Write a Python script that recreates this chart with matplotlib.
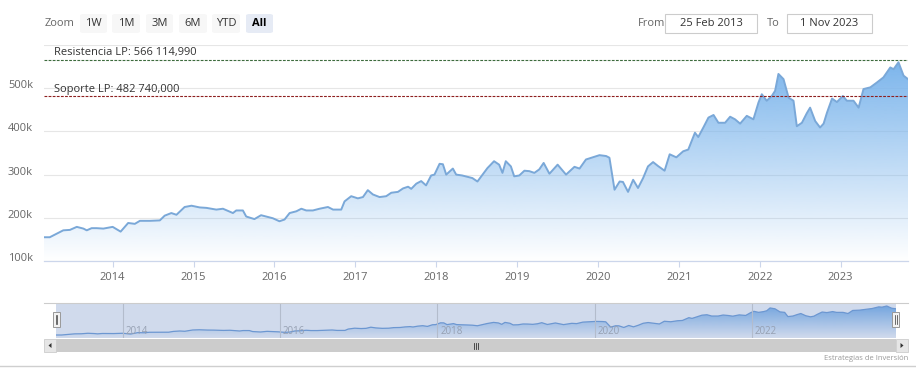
import matplotlib
matplotlib.use("Agg")
import matplotlib.pyplot as plt
import matplotlib.dates as mdates
import matplotlib.transforms as mtransforms
from matplotlib.patches import Rectangle, FancyBboxPatch, Polygon
from matplotlib.lines import Line2D
import numpy as np
import pandas as pd

# ---------------- data ----------------
dates = [
    "2013-02-25", "2013-03-23", "2013-04-23", "2013-05-23", "2013-06-22", "2013-07-23",
    "2013-08-22", "2013-09-06", "2013-09-28", "2013-10-21", "2013-11-20", "2014-01-01",
    "2014-02-06", "2014-03-12", "2014-04-11", "2014-05-04", "2014-06-18", "2014-08-02",
    "2014-08-24", "2014-09-23", "2014-10-16", "2014-11-22", "2014-12-23", "2015-01-29",
    "2015-02-28", "2015-04-14", "2015-05-14", "2015-06-28", "2015-07-13", "2015-08-12",
    "2015-08-27", "2015-10-03", "2015-11-02", "2015-11-25", "2015-12-25", "2016-01-24",
    "2016-02-16", "2016-03-10", "2016-04-09", "2016-05-02", "2016-05-24", "2016-06-23",
    "2016-07-23", "2016-08-30", "2016-09-22", "2016-10-29", "2016-11-13", "2016-12-13",
    "2017-01-12", "2017-02-04", "2017-02-26", "2017-03-21", "2017-04-20", "2017-05-20",
    "2017-06-12", "2017-07-12", "2017-08-04", "2017-08-27", "2017-09-10", "2017-10-03",
    "2017-10-25", "2017-11-16", "2017-12-09", "2017-12-24", "2018-01-16", "2018-01-31",
    "2018-02-15", "2018-03-17", "2018-04-01", "2018-04-28", "2018-05-21", "2018-06-13",
    "2018-07-06", "2018-07-29", "2018-08-20", "2018-09-19", "2018-10-12", "2018-10-27",
    "2018-11-11", "2018-12-04", "2018-12-19", "2019-01-11", "2019-02-03", "2019-02-25",
    "2019-03-20", "2019-04-11", "2019-05-01", "2019-05-27", "2019-07-03", "2019-08-10",
    "2019-09-17", "2019-10-10", "2019-11-08", "2019-12-08", "2020-01-08", "2020-02-07",
    "2020-02-22", "2020-03-16", "2020-04-08", "2020-04-23", "2020-05-16", "2020-06-08",
    "2020-06-30", "2020-07-23", "2020-08-14", "2020-09-06", "2020-09-28", "2020-10-28",
    "2020-11-20", "2020-12-20", "2021-01-20", "2021-02-12", "2021-03-14", "2021-03-29",
    "2021-04-21", "2021-05-14", "2021-06-06", "2021-06-28", "2021-07-28", "2021-08-20",
    "2021-09-11", "2021-10-04", "2021-11-03", "2021-12-03", "2021-12-26", "2022-01-10",
    "2022-02-01", "2022-02-24", "2022-03-11", "2022-03-26", "2022-04-18", "2022-05-11",
    "2022-06-02", "2022-06-17", "2022-07-10", "2022-08-01", "2022-08-16", "2022-09-08",
    "2022-09-30", "2022-10-16", "2022-10-31", "2022-11-23", "2022-12-15", "2023-01-11",
    "2023-01-29", "2023-02-28", "2023-03-23", "2023-04-14", "2023-05-15", "2023-06-13",
    "2023-07-13", "2023-08-13", "2023-08-28", "2023-09-19", "2023-10-12", "2023-11-01",
]
values = [
    155000, 155000, 163000, 171000, 172000, 179000,
    175000, 171000, 176000, 176000, 175000, 179000,
    168000, 188000, 186000, 193000, 193000, 194000,
    205000, 211000, 207000, 225000, 228000, 224000,
    223000, 219000, 221000, 211000, 217000, 217000,
    203000, 197000, 206000, 203000, 199000, 192000,
    196000, 211000, 215000, 221000, 217000, 217000,
    221000, 225000, 219000, 219000, 238000, 250000,
    245000, 248000, 264000, 254000, 248000, 250000,
    258000, 260000, 268000, 272000, 267000, 279000,
    285000, 275000, 298000, 300000, 325000, 324000,
    300000, 314000, 300000, 298000, 295000, 292000,
    284000, 300000, 315000, 331000, 323000, 304000,
    331000, 319000, 296000, 298000, 309000, 308000,
    304000, 312000, 327000, 302000, 323000, 300000,
    318000, 314000, 335000, 340000, 345000, 343000,
    339000, 265000, 284000, 283000, 260000, 288000,
    269000, 292000, 319000, 329000, 320000, 309000,
    347000, 340000, 354000, 358000, 397000, 387000,
    409000, 432000, 438000, 420000, 420000, 434000,
    428000, 418000, 436000, 428000, 467000, 486000,
    471000, 482000, 494000, 533000, 521000, 478000,
    471000, 412000, 420000, 442000, 455000, 424000,
    409000, 418000, 443000, 476000, 468000, 482000,
    471000, 471000, 455000, 498000, 502000, 513000,
    525000, 548000, 544000, 560000, 529000, 521000,
]
resistance_value = 566114.99
support_value = 482740.0
resistance_label = "Resistencia LP: 566 114,990"
support_label = "Soporte LP: 482 740,000"
y_ticks = [100000, 200000, 300000, 400000, 500000, 600000]
y_tick_labels = ["100k", "200k", "300k", "400k", "500k", ""]
range_buttons = ["1W", "1M", "3M", "6M", "YTD", "All"]
selected_button = "All"
from_date = "25 Feb 2013"
to_date = "1 Nov 2023"
nav_years = [2014, 2016, 2018, 2020, 2022]
credit = "Estrategias de Inversión"

# ---------------- styling ----------------
plt.rcParams["font.family"] = ["Open Sans", "DejaVu Sans"]
W, H = 916, 373
SERIES = "#7cb5ec"
LINE = "#7aa8d8"
TXT = "#666666"


def fx(p):
    return p / W


def fy(p):
    return 1 - p / H


def rect_px(x0, y0, x1, y1, **kw):
    r = Rectangle((fx(x0), fy(y1)), fx(x1) - fx(x0), fy(y0) - fy(y1),
                  transform=fig.transFigure, **kw)
    fig.add_artist(r)
    return r


fig = plt.figure(figsize=(W / 100, H / 100), dpi=100)
fig.patch.set_facecolor("white")

x = mdates.date2num(pd.to_datetime(dates))
vals = np.array(values, dtype=float)
x_min = mdates.date2num(pd.Timestamp("2013-02-25"))
x_max = mdates.date2num(pd.Timestamp("2023-11-01"))


def gradient_area(axis, ybottom, top_alpha=1.0):
    fb = axis.fill_between(x, vals, ybottom, facecolor="none", edgecolor="none")
    rgb = np.array(matplotlib.colors.to_rgb(SERIES))
    img = np.zeros((256, 1, 4))
    img[..., :3] = rgb
    img[..., 3] = np.linspace(top_alpha, 0.0, 256)[:, None]
    im = axis.imshow(img, extent=[x.min(), x.max(), ybottom, vals.max()],
                     aspect="auto", origin="upper", zorder=1, interpolation="bilinear")
    im.set_clip_path(fb.get_paths()[0], transform=axis.transData)
    return im


# ---------------- main chart ----------------
ax = fig.add_axes([fx(44), fy(261), fx(908) - fx(44), fy(45) - fy(261)])
ax.set_facecolor("white")
gradient_area(ax, 100000)
ax.plot(x, vals, color=LINE, lw=1.4, zorder=3, solid_joinstyle="round")

ax.set_xlim(x_min, x_max)
ax.set_ylim(100000, 600000)
ax.set_yticks(y_ticks)
ax.set_yticklabels(y_tick_labels)
ax.grid(axis="y", color="#e6e6e6", lw=0.8, zorder=0)
ax.set_axisbelow(True)
for s in ["top", "right", "left"]:
    ax.spines[s].set_visible(False)
ax.spines["bottom"].set_color("#ccd6eb")
ax.spines["bottom"].set_linewidth(0.9)
ax.tick_params(axis="y", length=0, pad=26, labelsize=8, labelcolor=TXT)
for lbl in ax.get_yticklabels():
    lbl.set_horizontalalignment("left")
    lbl.set_verticalalignment("baseline")
ax.xaxis.set_major_locator(mdates.YearLocator())
ax.xaxis.set_major_formatter(mdates.DateFormatter("%Y"))
ax.tick_params(axis="x", length=4, width=0.8, color="#ccd6eb", pad=4,
               labelsize=8, labelcolor=TXT)

# plot lines
ax.axhline(resistance_value, color="#3d6b3d", lw=0.8, ls=(0, (2.5, 1.2)), zorder=4)
ax.axhline(support_value, color="#8e1f1f", lw=0.8, ls=(0, (2.5, 1.2)), zorder=4)
blend = mtransforms.blended_transform_factory(ax.transAxes, ax.transData)
ax.annotate(resistance_label, xy=(0, resistance_value), xycoords=blend,
            xytext=(7.3, 1.2), textcoords="offset points", fontsize=8,
            color="#333333", va="bottom", ha="left", zorder=5)
ax.annotate(support_label, xy=(0, support_value), xycoords=blend,
            xytext=(7.3, 0.6), textcoords="offset points", fontsize=8,
            color="#333333", va="bottom", ha="left", zorder=5)

# ---------------- range selector ----------------
fig.text(fx(45), fy(23), "Zoom", fontsize=8, color=TXT, va="center", ha="left")
btn_x = [(80, 107), (112, 140), (146, 173), (179, 207), (212, 240), (246, 273)]
for (b0, b1), lab in zip(btn_x, range_buttons):
    sel = lab == selected_button
    p = FancyBboxPatch((fx(b0), fy(33)), fx(b1) - fx(b0), fy(14) - fy(33),
                       boxstyle="round,pad=0,rounding_size=0.004",
                       transform=fig.transFigure,
                       facecolor="#e6ebf5" if sel else "#f7f7f7", edgecolor="none")
    fig.add_artist(p)
    fig.text(fx((b0 + b1) / 2), fy(23.5), lab, fontsize=8,
             color="#000000" if sel else "#333333",
             fontweight="bold" if sel else "normal", ha="center", va="center")

fig.text(fx(638), fy(23), "From", fontsize=8, color=TXT, va="center", ha="left")
rect_px(665, 14, 757, 33, facecolor="white", edgecolor="#cccccc", lw=0.8)
fig.text(fx(711), fy(23.5), from_date, fontsize=8, color="#333333", ha="center", va="center")
fig.text(fx(767), fy(23), "To", fontsize=8, color=TXT, va="center", ha="left")
rect_px(787, 14, 872, 33, facecolor="white", edgecolor="#cccccc", lw=0.8)
fig.text(fx(829.5), fy(23.5), to_date, fontsize=8, color="#333333", ha="center", va="center")

# ---------------- navigator ----------------
nav = fig.add_axes([fx(56), fy(338), fx(896) - fx(56), fy(303) - fy(338)])
nav.set_facecolor("white")
gradient_area(nav, 113000)
nav.plot(x, vals, color="#6f9fd8", lw=0.9, zorder=3)
nav.set_xlim(x_min, x_max)
nav.set_ylim(113000, 602000)
nav.set_xticks([])
nav.set_yticks([])
for s in nav.spines.values():
    s.set_visible(False)
nav.add_patch(Rectangle((0, 0), 1, 1, transform=nav.transAxes,
                        facecolor="#6685c2", alpha=0.3, edgecolor="none", zorder=4))
nblend = mtransforms.blended_transform_factory(nav.transData, nav.transAxes)
for yr in nav_years:
    xv = mdates.date2num(pd.Timestamp(f"{yr}-01-01"))
    nav.axvline(xv, color="#b3bccc", lw=0.8, zorder=5)
    nav.annotate(str(yr), xy=(xv, 0.2), xycoords=nblend, xytext=(2, 0),
                 textcoords="offset points", fontsize=7, color="#96a0b2",
                 va="center", ha="left", zorder=6)

# navigator outline
fig.add_artist(Line2D([fx(44), fx(908)], [fy(303), fy(303)], color="#cccccc",
                      lw=0.8, transform=fig.transFigure))

# handles
for hx in (56.5, 895.5):
    rect_px(hx - 3.5, 312, hx + 3.5, 327, facecolor="#f2f2f2", edgecolor="#999999", lw=0.7,
            zorder=10)
    for dx in (-1, 1):
        fig.add_artist(Line2D([fx(hx + dx), fx(hx + dx)], [fy(315), fy(324)],
                              color="#333333", lw=0.5, transform=fig.transFigure, zorder=11))

# scrollbar
rect_px(56, 339, 896, 352, facecolor="#cccccc", edgecolor="none")
rect_px(44, 339, 56, 352, facecolor="#e6e6e6", edgecolor="#cccccc", lw=0.6)
rect_px(896, 339, 908, 352, facecolor="#e6e6e6", edgecolor="#cccccc", lw=0.6)
fig.add_artist(Polygon([[fx(48.5), fy(345.5)], [fx(51.5), fy(343)], [fx(51.5), fy(348)]],
                       closed=True, facecolor="#333333", edgecolor="none",
                       transform=fig.transFigure))
fig.add_artist(Polygon([[fx(903.5), fy(345.5)], [fx(900.5), fy(343)], [fx(900.5), fy(348)]],
                       closed=True, facecolor="#333333", edgecolor="none",
                       transform=fig.transFigure))
for gx in (474, 476, 478):
    fig.add_artist(Line2D([fx(gx), fx(gx)], [fy(343), fy(348.5)], color="#333333",
                          lw=0.6, transform=fig.transFigure))

# credit + bottom rule
fig.text(fx(908), fy(358), credit, fontsize=5.5, color="#999999", ha="right", va="center")
fig.add_artist(Line2D([0, 1], [fy(365.5), fy(365.5)], color="#cfcfcf", lw=1.0,
                      transform=fig.transFigure))

fig.savefig("out.png", dpi=100)
